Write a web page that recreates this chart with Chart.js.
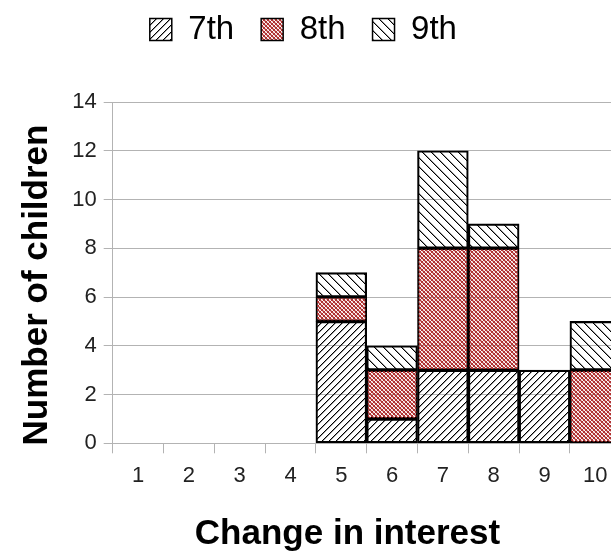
<!DOCTYPE html>
<html>
<head>
<meta charset="utf-8">
<script src="https://cdn.jsdelivr.net/npm/chart.js@4.4.1/dist/chart.umd.min.js"></script>
<style>
html,body{margin:0;padding:0;background:#fff;overflow:hidden;}
#wrap{position:absolute;left:0;top:0;width:611px;height:551px;overflow:hidden;}
</style>
</head>
<body>
<div id="wrap"><canvas id="c" width="640" height="551"></canvas></div>
<script>
const categories = ['1','2','3','4','5','6','7','8','9','10'];
const grade7 = [0,0,0,0,5,1,3,3,3,0];
const grade8 = [0,0,0,0,1,2,5,5,0,3];
const grade9 = [0,0,0,0,1,1,4,1,0,2];
const seriesNames = ['7th','8th','9th'];
const yMax = 14, yStep = 2;
const xTitle = 'Change in interest';
const yTitle = 'Number of children';

function hatch(dir, s){
  const c = document.createElement('canvas');
  c.width = s; c.height = s;
  const g = c.getContext('2d');
  for (let y = 0; y < s; y++) {
    const x = dir === '/' ? (s - 1 - y) : y;
    g.fillStyle = '#000';
    g.fillRect(x, y, 1, 1);
    g.fillStyle = 'rgba(0,0,0,0.4)';
    g.fillRect((x + 1) % s, y, 1, 1);
  }
  return g.createPattern(c, 'repeat');
}
function cross(){
  const s = 4;
  const c = document.createElement('canvas');
  c.width = s; c.height = s;
  const g = c.getContext('2d');
  g.fillStyle = '#b03030';
  const px = [[0,0],[1,1],[2,2],[3,3],[3,0],[2,1],[1,2],[0,3]];
  px.forEach(p => g.fillRect(p[0], p[1], 1, 1));
  g.fillStyle = 'rgba(176,48,48,0.4)';
  [[1,0],[0,1],[2,3],[3,2]].forEach(p => g.fillRect(p[0], p[1], 1, 1));
  return g.createPattern(c, 'repeat');
}
const nz = a => a.map(v => v === 0 ? null : v);

const spacer = {
  id: 'spacer',
  beforeUpdate(chart) {
    const lg = chart.legend;
    if (lg && !lg._patched) {
      const f = lg.fit.bind(lg);
      lg.fit = function(){ f(); this.height += 46; };
      lg._patched = true;
    }
  },
  afterLayout(chart) {
    const lg = chart.legend;
    if (lg) { lg.left -= 7; lg.right -= 7; }
  },
  afterDraw(chart) {
    const ctx = chart.ctx;
    ctx.save();
    ctx.fillStyle = '#000';
    ctx.font = 'bold 35px "Liberation Sans", Arial, sans-serif';
    ctx.textAlign = 'center';
    ctx.textBaseline = 'alphabetic';
    ctx.fillText(xTitle, 347.5, 544);
    ctx.translate(46.7, 285);
    ctx.rotate(-Math.PI/2);
    ctx.fillText(yTitle, 0, 0);
    ctx.restore();
  }
};

const common = {borderColor:'#000', borderWidth:1.5, borderSkipped:false, barPercentage:1, categoryPercentage:1};
new Chart(document.getElementById('c'), {
  type: 'bar',
  data: {
    labels: categories,
    datasets: [
      Object.assign({label: seriesNames[0], data: nz(grade7), backgroundColor: hatch('/', 7)}, common),
      Object.assign({label: seriesNames[1], data: nz(grade8), backgroundColor: cross()}, common),
      Object.assign({label: seriesNames[2], data: nz(grade9), backgroundColor: hatch('\\', 9)}, common)
    ]
  },
  plugins: [spacer],
  options: {
    responsive: false,
    animation: false,
    layout: {padding: {left: 0, right: 19.3, top: -14, bottom: 53.3}},
    plugins: {
      tooltip: {enabled: false},
      legend: {
        position: 'top',
        labels: {
          font: {family: '"Liberation Sans", Arial, sans-serif', size: 33},
          color: '#000',
          boxWidth: 22, boxHeight: 22, padding: 27
        }
      }
    },
    scales: {
      x: {
        stacked: true,
        grid: {display: true, drawOnChartArea: false, drawTicks: true, tickLength: 10, color: '#b3b3b3', offset: true},
        border: {color: '#b3b3b3'},
        ticks: {font: {family: '"Liberation Sans", Arial, sans-serif', size: 22}, color: '#222', padding: 9, maxRotation: 0, autoSkip: false}
      },
      y: {
        stacked: true,
        min: 0, max: yMax,
        afterFit(scale) { scale.width = 112.7; },
        grid: {color: '#b3b3b3', tickLength: 9},
        border: {color: '#b3b3b3'},
        ticks: {stepSize: yStep, font: {family: '"Liberation Sans", Arial, sans-serif', size: 22}, color: '#222', padding: 7}
      }
    }
  }
});
</script>
</body>
</html>
